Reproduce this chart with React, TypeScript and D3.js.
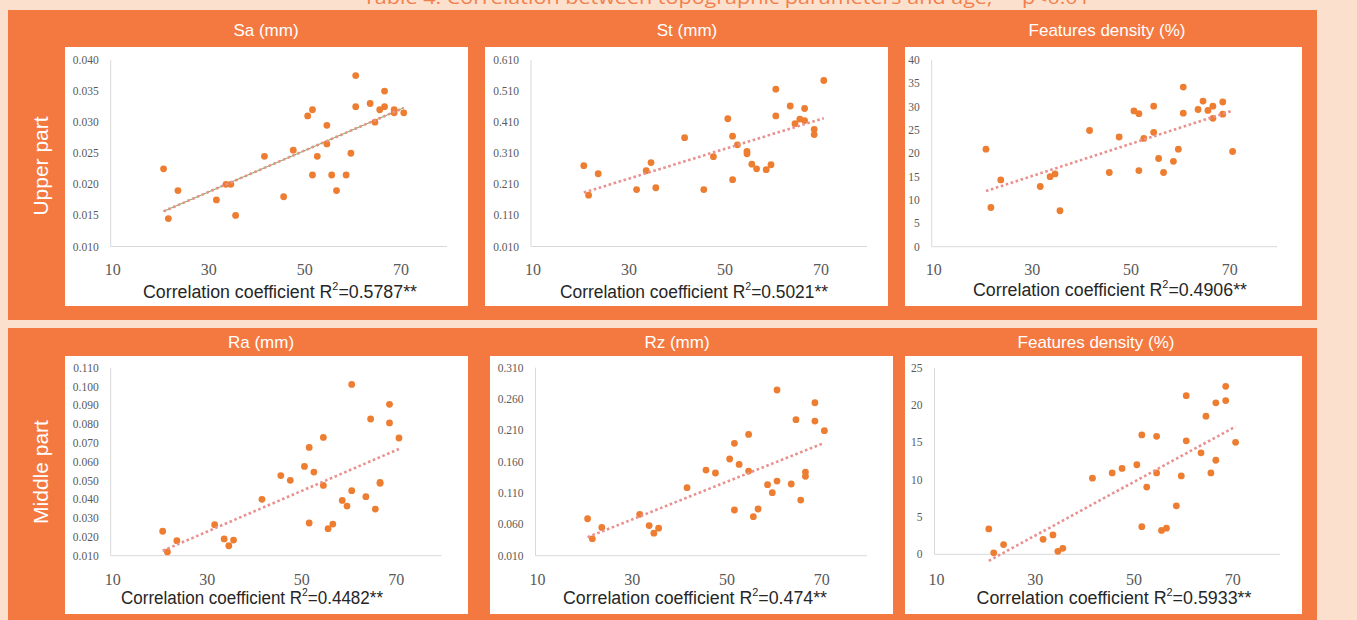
import * as d3 from "d3";

// ages (x) shared by every panel
const ages = [21, 22, 24, 32, 34, 35, 36, 42, 46, 48, 51, 52, 52, 53, 55, 55, 56, 57, 59, 60, 61, 61, 64, 65, 66, 67, 67, 69, 69, 71];

const saUpper = [0.0225, 0.0145, 0.019, 0.0175, 0.02, 0.02, 0.015, 0.0245, 0.018, 0.0255, 0.031, 0.032, 0.0215, 0.0245, 0.0295, 0.0265, 0.0215, 0.019, 0.0215, 0.025, 0.0375, 0.0325, 0.033, 0.03, 0.032, 0.035, 0.0325, 0.032, 0.0315, 0.0315];
const stUpper = [0.27, 0.175, 0.244, 0.193, 0.254, 0.28, 0.199, 0.36, 0.193, 0.299, 0.421, 0.365, 0.225, 0.337, 0.316, 0.308, 0.275, 0.26, 0.257, 0.273, 0.516, 0.43, 0.462, 0.405, 0.42, 0.454, 0.415, 0.387, 0.37, 0.544];
const densityUpper = [20.9, 8.4, 14.3, 12.9, 15.0, 15.6, 7.7, 24.9, 15.9, 23.5, 29.1, 28.5, 16.3, 23.2, 30.1, 24.5, 18.9, 15.9, 18.3, 20.9, 34.2, 28.6, 29.4, 31.2, 29.2, 30.1, 27.5, 31.0, 28.4, 20.4];
const raMiddle = [0.023, 0.012, 0.018, 0.0265, 0.0189, 0.0153, 0.0183, 0.04, 0.0526, 0.0501, 0.0575, 0.0676, 0.0274, 0.0545, 0.0729, 0.0474, 0.0244, 0.0268, 0.0394, 0.0364, 0.1011, 0.0446, 0.0414, 0.0827, 0.0348, 0.049, 0.0485, 0.0905, 0.0806, 0.0726];
const rzMiddle = [0.069, 0.037, 0.055, 0.076, 0.058, 0.046, 0.054, 0.1185, 0.1467, 0.142, 0.1643, 0.1893, 0.0829, 0.1557, 0.2036, 0.1451, 0.0722, 0.0845, 0.1233, 0.1105, 0.2744, 0.1291, 0.1244, 0.227, 0.0988, 0.1435, 0.1366, 0.2541, 0.2249, 0.2095];
const densityMiddle = [3.4, 0.2, 1.3, 2.0, 2.6, 0.4, 0.8, 10.2, 10.9, 11.5, 12.0, 16.0, 3.7, 9.0, 15.8, 10.9, 3.2, 3.5, 6.5, 10.5, 21.25, 15.2, 13.6, 18.5, 10.9, 20.3, 12.6, 22.5, 20.6, 15.0];

const titles = ["Sa (mm)", "St (mm)", "Features density (%)", "Ra (mm)", "Rz (mm)", "Features density (%)"];
const r2Values = ["0.5787", "0.5021", "0.4906", "0.4482", "0.474", "0.5933"];
const rowLabels = ["Upper part", "Middle part"];
const xTicks = [10, 30, 50, 70];
const yTicksSa = [0.01, 0.015, 0.02, 0.025, 0.03, 0.035, 0.04];
const yTicksSt = [0.01, 0.11, 0.21, 0.31, 0.41, 0.51, 0.61];
const yTicksDensUp = [0, 5, 10, 15, 20, 25, 30, 35, 40];
const yTicksRa = [0.01, 0.02, 0.03, 0.04, 0.05, 0.06, 0.07, 0.08, 0.09, 0.1, 0.11];
const yTicksRz = [0.01, 0.06, 0.11, 0.16, 0.21, 0.26, 0.31];
const yTicksDensMid = [0, 5, 10, 15, 20, 25];

const series = [saUpper, stUpper, densityUpper, raMiddle, rzMiddle, densityMiddle];
const yTickSets = [yTicksSa, yTicksSt, yTicksDensUp, yTicksRa, yTicksRz, yTicksDensMid];
const yFormats = [".3f", ".3f", "d", ".3f", ".3f", "d"];

// positions of each panel on the page
const layout = [
  { box: [65, 47, 403, 259], x0: 110.7, x1: 447, yTop: 60, yBot: 246.5, titleX: 266, titleY: 30, tickY: 269, capX: 280, capY: 292, capW: 274 },
  { box: [485, 47, 403, 259], x0: 531, x1: 867, yTop: 60, yBot: 246.5, titleX: 687, titleY: 30, tickY: 269, capX: 694, capY: 292, capW: 268 },
  { box: [905, 47, 397, 259], x0: 931.7, x1: 1277, yTop: 60, yBot: 246.7, titleX: 1107, titleY: 30, tickY: 269, capX: 1110, capY: 290, capW: 274 },
  { box: [65, 356, 403, 258], x0: 110.7, x1: 441.5, yTop: 367.7, yBot: 555.7, titleX: 261, titleY: 342, tickY: 579, capX: 252, capY: 598, capW: 262 },
  { box: [490, 356, 403, 258], x0: 535.5, x1: 867, yTop: 367.7, yBot: 555.7, titleX: 677, titleY: 342, tickY: 579, capX: 695, capY: 598, capW: 264 },
  { box: [905, 356, 397, 258], x0: 934.5, x1: 1280, yTop: 367.7, yBot: 554.3, titleX: 1096, titleY: 342, tickY: 579, capX: 1114, capY: 598, capW: 275 },
];

const ORANGE = "#F47941";
const DOT = "#ED7D31";
const TREND = "#E8918F";

function fit(xs: number[], ys: number[]) {
  const mx = d3.mean(xs)!;
  const my = d3.mean(ys)!;
  let num = 0;
  let den = 0;
  xs.forEach((x, i) => {
    num += (x - mx) * (ys[i] - my);
    den += (x - mx) * (x - mx);
  });
  const slope = num / den;
  return { slope, intercept: my - slope * mx };
}

function Panel({ idx }: { idx: number }) {
  const L = layout[idx];
  const ys = series[idx];
  const ticks = yTickSets[idx];
  const x = d3.scaleLinear().domain([10, 80]).range([L.x0, L.x1]);
  const y = d3.scaleLinear().domain([ticks[0], ticks[ticks.length - 1]]).range([L.yBot, L.yTop]);
  const fmt = d3.format(yFormats[idx]);
  const { slope, intercept } = fit(ages, ys);
  const xMin = d3.min(ages)!;
  const xMax = d3.max(ages)!;
  const trend = d3.line<number>().x((d) => x(d)).y((d) => y(slope * d + intercept))([xMin, xMax]);
  const [bx, by, bw, bh] = L.box;

  return (
    <g>
      <rect x={bx} y={by} width={bw} height={bh} fill="#fff" />
      <text x={L.titleX} y={L.titleY} fill="#fff" fontSize={17} textAnchor="middle" dominantBaseline="central" fontFamily="'Liberation Sans', Arial, sans-serif">
        {titles[idx]}
      </text>
      <line x1={L.x0} x2={L.x0} y1={L.yTop} y2={L.yBot} stroke="#D9D9D9" />
      <line x1={L.x0} x2={L.x1} y1={L.yBot} y2={L.yBot} stroke="#D9D9D9" />
      {ticks.map((t) => (
        <text key={t} x={L.x0 - 12} y={y(t)} fontSize={11.5} fill="#595959" textAnchor="end" dominantBaseline="central" fontFamily="'Liberation Serif', 'Times New Roman', serif">
          {fmt(t)}
        </text>
      ))}
      {xTicks.map((t) => (
        <text key={t} x={x(t) + 2} y={L.tickY} fontSize={16} fill="#595959" textAnchor="middle" dominantBaseline="central" fontFamily="'Liberation Serif', 'Times New Roman', serif">
          {t}
        </text>
      ))}
      {idx === 0 && <path d={trend!} stroke="#70AD47" strokeWidth={1} fill="none" />}
      {ages.map((a, i) => (
        <circle key={i} cx={x(a)} cy={y(ys[i])} r={3.4} fill={DOT} />
      ))}
      <path d={trend!} stroke={TREND} strokeWidth={2.6} strokeDasharray="2.6,2.6" fill="none" />
      <text x={L.capX} y={L.capY} fontSize={18} fill="#262626" textAnchor="middle" dominantBaseline="central" textLength={L.capW} lengthAdjust="spacingAndGlyphs" fontFamily="'Liberation Sans', Arial, sans-serif">
        Correlation coefficient R<tspan fontSize={11} baselineShift="55%">2</tspan>={r2Values[idx]}**
      </text>
    </g>
  );
}

export default function App() {
  return (
    <svg width={1357} height={620} style={{ position: "fixed", left: 0, top: 0 }}>
      <rect x={0} y={0} width={1357} height={620} fill="#FCE0CE" />
      <text x={363} y={4} fontSize={18} fill="#F2804C" textLength={727} lengthAdjust="spacingAndGlyphs" fontFamily="'Open Sans', sans-serif">
        Table 4. Correlation between topographic parameters and age; **p&lt;0.01
      </text>
      <rect x={8} y={10} width={1309} height={310} fill={ORANGE} />
      <rect x={8} y={328} width={1309} height={300} fill={ORANGE} />
      {rowLabels.map((lab, i) => (
        <text key={lab} transform={`translate(40,${i === 0 ? 166 : 472}) rotate(-90)`} fontSize={21} fill="#fff" textAnchor="middle" dominantBaseline="central" fontFamily="'Liberation Sans', Arial, sans-serif">
          {lab}
        </text>
      ))}
      {series.map((_, i) => (
        <Panel key={i} idx={i} />
      ))}
    </svg>
  );
}
